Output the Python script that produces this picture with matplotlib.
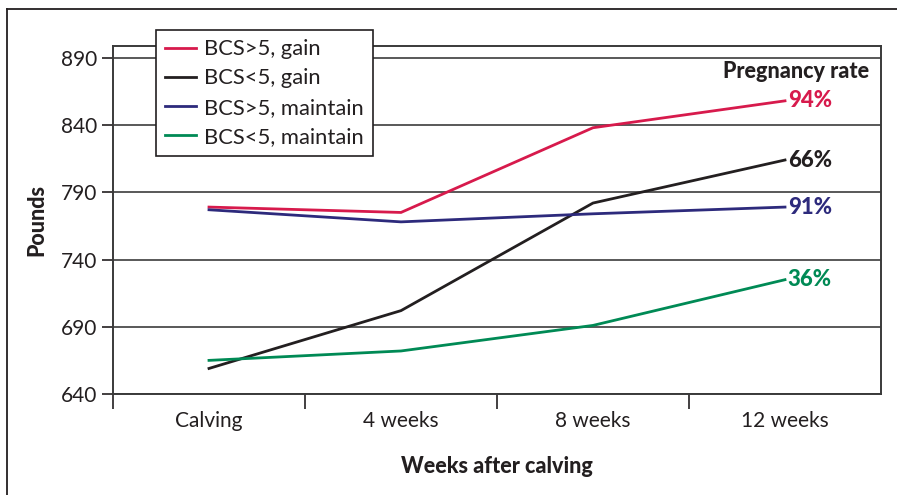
import matplotlib
matplotlib.use("Agg")
from matplotlib import pyplot as plt
from matplotlib.lines import Line2D

plt.rcParams['font.family'] = ['Lato', 'DejaVu Sans']

# data
stages = ['Calving', '4 weeks', '8 weeks', '12 weeks']
series_names = ['BCS>5, gain', 'BCS<5, gain', 'BCS>5, maintain', 'BCS<5, maintain']
bcs_hi_gain = [779, 775, 838, 858]
bcs_lo_gain = [659, 702, 782, 814]
bcs_hi_maint = [777, 768, 774, 779]
bcs_lo_maint = [665, 672, 691, 725]
preg_rates = ['94%', '66%', '91%', '36%']
colors = ['#d71a4c', '#231f20', '#2d2a7c', '#008a55']
yticks = [640, 690, 740, 790, 840, 890]

all_series = [bcs_hi_gain, bcs_lo_gain, bcs_hi_maint, bcs_lo_maint]
ink = '#231f20'

fig = plt.figure(figsize=(8.97, 4.95), dpi=100)
ax = fig.add_axes([113/897, 1-394/495, (881-113)/897, (394-45.7)/495])

x = list(range(len(stages)))
for vals, name, c in zip(all_series, series_names, colors):
    ax.plot(x, vals, color=c, lw=2, label=name, solid_joinstyle='miter')

# pregnancy rate labels at the end of each line
for vals, txt, c in zip(all_series, preg_rates, colors):
    ax.annotate(txt, (x[-1], vals[-1]), xytext=(2, 0), textcoords='offset points',
                color=c, fontsize=16, fontweight='black', va='center', ha='left')
ax.text(3.44, 880, 'Pregnancy rate', ha='right', va='center',
        fontsize=15.5, fontweight='black', color=ink)

ax.set_xlim(-0.5, 3.5)
ax.set_ylim(640, 899)
ax.set_yticks(yticks)
ax.tick_params(axis='y', length=8, width=1.2, labelsize=15, colors=ink, pad=3)
ax.yaxis.grid(True, color='#2b2b2b', lw=1.1)
ax.set_axisbelow(True)

ax.set_xticks([-0.5, 0.5, 1.5, 2.5])
ax.set_xticklabels([])
ax.tick_params(axis='x', which='major', length=11, width=1.2, color=ink)
ax.set_xticks(x, minor=True)
ax.set_xticklabels(stages, minor=True)
ax.tick_params(axis='x', which='minor', length=0, labelsize=15, pad=12, colors=ink)

for s in ax.spines.values():
    s.set_color('#3a3a3a')
    s.set_linewidth(1.4)

ax.set_ylabel('Pounds', fontsize=15.5, fontweight='black', labelpad=10, color=ink)
ax.set_xlabel('Weeks after calving', fontsize=15.5, fontweight='black', labelpad=18, color=ink)

leg = ax.legend(loc='upper left', bbox_to_anchor=(156/897, 1-30/495),
                bbox_transform=fig.transFigure, fontsize=15.8, frameon=True,
                fancybox=False, edgecolor=ink, handlelength=1.4,
                labelspacing=0.42, borderpad=0.42, handletextpad=0.35, borderaxespad=0)
leg.get_frame().set_linewidth(1.2)
leg.get_frame().set_alpha(1)
for t in leg.get_texts():
    t.set_color(ink)

# outer border (top and left visible)
fig.add_artist(Line2D([7/897, 7/897], [0, 1-9/495], color=ink, lw=1.3, transform=fig.transFigure))
fig.add_artist(Line2D([7/897, 1], [1-9/495, 1-9/495], color=ink, lw=1.3, transform=fig.transFigure))

fig.savefig('out.png', dpi=100)
